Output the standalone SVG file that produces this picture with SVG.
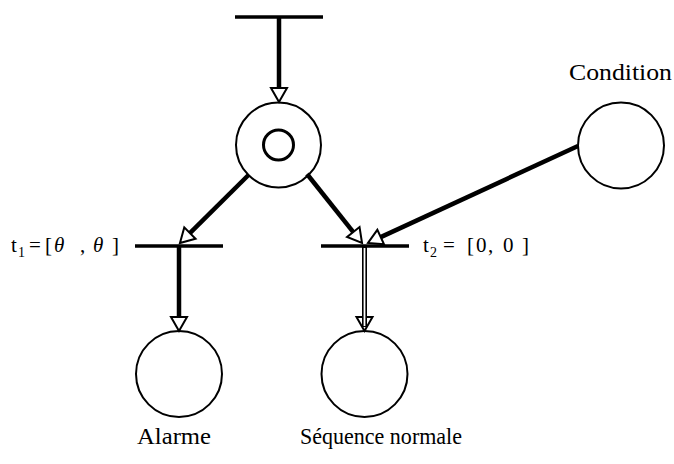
<svg xmlns="http://www.w3.org/2000/svg" width="674" height="464" viewBox="0 0 674 464">
<style>
.place{fill:none;stroke:#000;stroke-width:2}
.bar{stroke:#000;stroke-width:3.5;stroke-linecap:butt}
.arc{stroke:#000;stroke-width:4.5;fill:none;stroke-linecap:butt}
.head{fill:#fff;stroke:#000;stroke-width:2;stroke-linejoin:miter}
text{font-family:"Liberation Serif","DejaVu Serif",serif;fill:#000}
.lbl{font-size:23px}
.tl{font-size:21px}
.sub{font-size:14px}
.it{font-style:italic}
</style>
<defs>
<marker id="ah" markerUnits="userSpaceOnUse" viewBox="-2 -10 18 20" refX="0" refY="0" markerWidth="18" markerHeight="20" orient="auto" overflow="visible">
<path d="M0,-8 L14,0 L0,8 Z" class="head"/>
</marker>
</defs>
<g id="t0"><line class="bar" x1="235" y1="17" x2="323" y2="17"/></g>
<g id="p0">
<circle class="place" cx="278.5" cy="145" r="42.5"/>
<circle cx="278.5" cy="145" r="15" fill="none" stroke="#000" stroke-width="3"/>
</g>
<g id="t1"><line class="bar" x1="135" y1="246" x2="223" y2="246"/></g>
<g id="t2"><line class="bar" x1="321" y1="246" x2="409" y2="246"/></g>
<g id="pcond"><circle class="place" cx="621" cy="145.5" r="43"/></g>
<g id="palarme"><circle class="place" cx="179" cy="374" r="43"/></g>
<g id="pseq"><circle class="place" cx="364.5" cy="374" r="43"/></g>
<g id="connectors">
<line class="arc" x1="279" y1="17" x2="279" y2="88" stroke-width="3.2" marker-end="url(#ah)"/>
<line class="arc" x1="248.5" y1="175" x2="189.9" y2="233.1" marker-end="url(#ah)"/>
<line class="arc" x1="307" y1="174" x2="353.3" y2="232.05" marker-end="url(#ah)"/>
<line class="arc" x1="578" y1="146" x2="380.7" y2="237.1" marker-end="url(#ah)"/>
<line class="arc" x1="179" y1="246" x2="179" y2="317" marker-end="url(#ah)"/>
<polygon class="head" points="356.5,317 372.5,317 364.5,331"/>
<line x1="364.5" y1="246" x2="364.5" y2="327" stroke="#000" stroke-width="5"/>
<line x1="364.5" y1="248" x2="364.5" y2="326" stroke="#fff" stroke-width="1.8"/>
</g>
<g id="labels">
<text class="lbl" x="569" y="80" textLength="103" lengthAdjust="spacingAndGlyphs">Condition</text>
<text class="lbl" x="137" y="444" textLength="74" lengthAdjust="spacingAndGlyphs">Alarme</text>
<text class="lbl" x="300" y="444" textLength="162" lengthAdjust="spacingAndGlyphs">Séquence normale</text>
<text class="tl"><tspan x="11" y="252">t</tspan><tspan class="sub" x="18" y="257">1</tspan><tspan x="29" y="252">=</tspan><tspan x="45" y="252">[</tspan><tspan class="it" x="54" y="252">θ</tspan><tspan x="80" y="252">,</tspan><tspan class="it" x="93" y="252">θ</tspan><tspan x="112" y="252">]</tspan></text>
<text class="tl"><tspan x="423" y="252">t</tspan><tspan class="sub" x="430" y="257">2</tspan><tspan x="443" y="252">=</tspan><tspan x="467" y="252">[</tspan><tspan x="476" y="252">0</tspan><tspan x="488" y="252">,</tspan><tspan x="503" y="252">0</tspan><tspan x="522" y="252">]</tspan></text>
</g>
</svg>
